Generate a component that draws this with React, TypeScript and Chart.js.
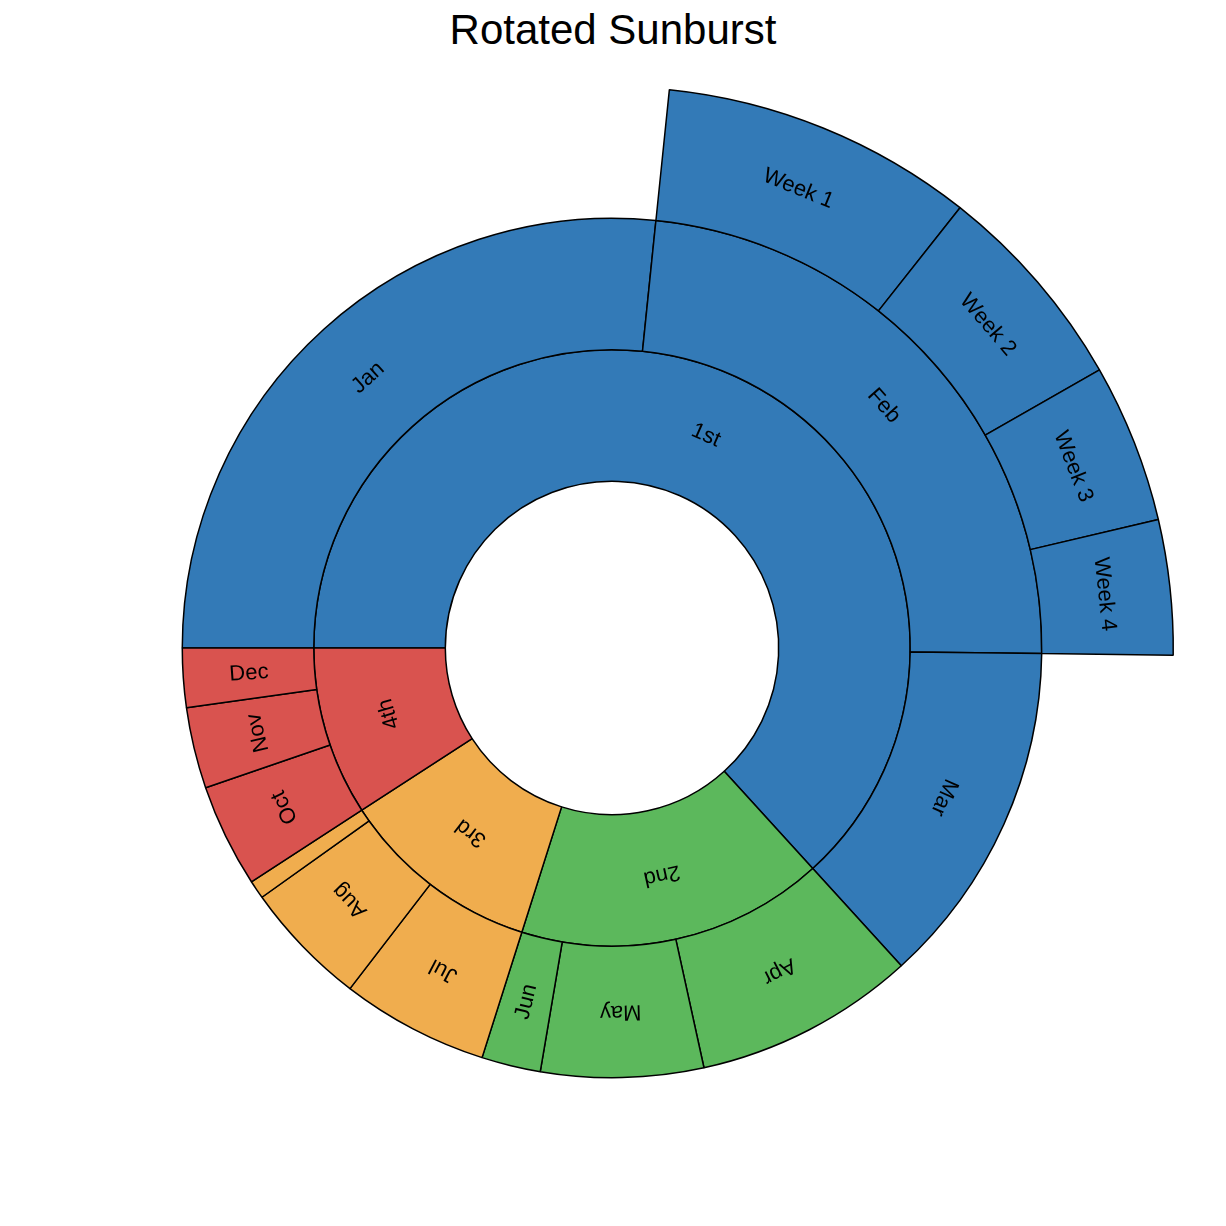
import { useEffect, useRef } from "react"
import { Chart, registerables, ArcElement } from "chart.js"

Chart.register(...registerables)

// data
const quarters = ["1st", "2nd", "3rd", "4th"]
const quarterValues = [228, 60, 39.5, 33]
const months = ["Jan", "Feb", "Mar", "Apr", "May", "Jun", "Jul", "Aug", "Sep", "Oct", "Nov", "Dec"]
const monthValues = [96, 85, 47, 30, 22, 8, 20, 17, 2.5, 14, 11, 8]
const weeks = ["Week 1", "Week 2", "Week 3", "Week 4"]
const weekValues = [32.5, 22, 16.5, 14]

const quarterColors = ["#337ab7", "#5cb85c", "#f0ad4e", "#d9534f"]
const monthQuarter = [0, 0, 0, 1, 1, 1, 2, 2, 2, 3, 3, 3]
const radialLabels = ["Dec", "Jun"]
const hiddenLabels = ["Sep", ""]

const total = quarterValues.reduce((a, b) => a + b, 0)
const weekRing = [monthValues[0], ...weekValues, total - monthValues[0] - weekValues.reduce((a, b) => a + b, 0)]
const weekRingLabels = ["", ...weeks, ""]

const labelPlugin = {
    id: "arcLabels",
    afterDatasetsDraw(chart: Chart) {
        const ctx = chart.ctx
        ctx.save()
        ctx.font = "22px 'Liberation Sans', Arial, sans-serif"
        ctx.fillStyle = "#000"
        ctx.textAlign = "center"
        ctx.textBaseline = "middle"
        chart.data.datasets.forEach((ds: any, di: number) => {
            const meta = chart.getDatasetMeta(di)
            meta.data.forEach((el, i) => {
                const label = ds.labelsText[i]
                if (hiddenLabels.includes(label)) return
                const arc = el as ArcElement
                const { x, y, startAngle, endAngle, innerRadius, outerRadius } = arc.getProps(
                    ["x", "y", "startAngle", "endAngle", "innerRadius", "outerRadius"], true) as any
                const a = (startAngle + endAngle) / 2
                const r = (innerRadius + outerRadius) / 2
                let rot = a + Math.PI / 2
                if (radialLabels.includes(label)) {
                    rot = a
                    if (Math.cos(a) < 0) rot += Math.PI
                }
                ctx.save()
                ctx.translate(x + r * Math.cos(a), y + r * Math.sin(a))
                ctx.rotate(rot)
                ctx.fillText(label, 0, 0)
                ctx.restore()
            })
        })
        ctx.restore()
    },
}

export default function App() {
    const chartRef = useRef<HTMLCanvasElement>(null)
    const chartInstance = useRef<Chart | null>(null)

    useEffect(() => {
        if (!chartRef.current) return
        if (chartInstance.current) chartInstance.current.destroy()

        const weekColors = weekRing.map((_, i) => (i === 0 || i === weekRing.length - 1 ? "rgba(0,0,0,0)" : quarterColors[0]))
        const weekBorders = weekRing.map((_, i) => (i === 0 || i === weekRing.length - 1 ? 0 : 1.5))

        chartInstance.current = new Chart(chartRef.current, {
            type: "doughnut",
            data: {
                labels: months,
                datasets: [
                    {
                        data: weekRing,
                        backgroundColor: weekColors,
                        borderColor: "#000",
                        borderWidth: weekBorders,
                        labelsText: weekRingLabels,
                    } as any,
                    {
                        data: monthValues,
                        backgroundColor: monthQuarter.map((q) => quarterColors[q]),
                        borderColor: "#000",
                        borderWidth: 1.5,
                        labelsText: months,
                    } as any,
                    {
                        data: quarterValues,
                        backgroundColor: quarterColors,
                        borderColor: "#000",
                        borderWidth: 1.5,
                        labelsText: quarters,
                    } as any,
                ],
            },
            options: {
                responsive: false,
                animation: false,
                rotation: -90,
                cutout: "29.7%",
                layout: { padding: { top: 86, bottom: 16, left: 50, right: 52 } },
                plugins: {
                    legend: { display: false },
                    tooltip: { enabled: false },
                    title: { display: false },
                },
            },
            plugins: [labelPlugin],
        })

        return () => {
            if (chartInstance.current) chartInstance.current.destroy()
        }
    }, [])

    return (
        <div style={{ position: "absolute", left: 0, top: 0, width: 1226, height: 1226, background: "#fff" }}>
            <div
                style={{
                    position: "absolute",
                    top: 6,
                    width: "100%",
                    textAlign: "center",
                    fontFamily: "'Liberation Sans', Arial, sans-serif",
                    fontSize: 42,
                }}
            >
                Rotated Sunburst
            </div>
            <canvas ref={chartRef} width={1226} height={1226} style={{ position: "absolute", left: 0, top: 0 }} />
        </div>
    )
}
